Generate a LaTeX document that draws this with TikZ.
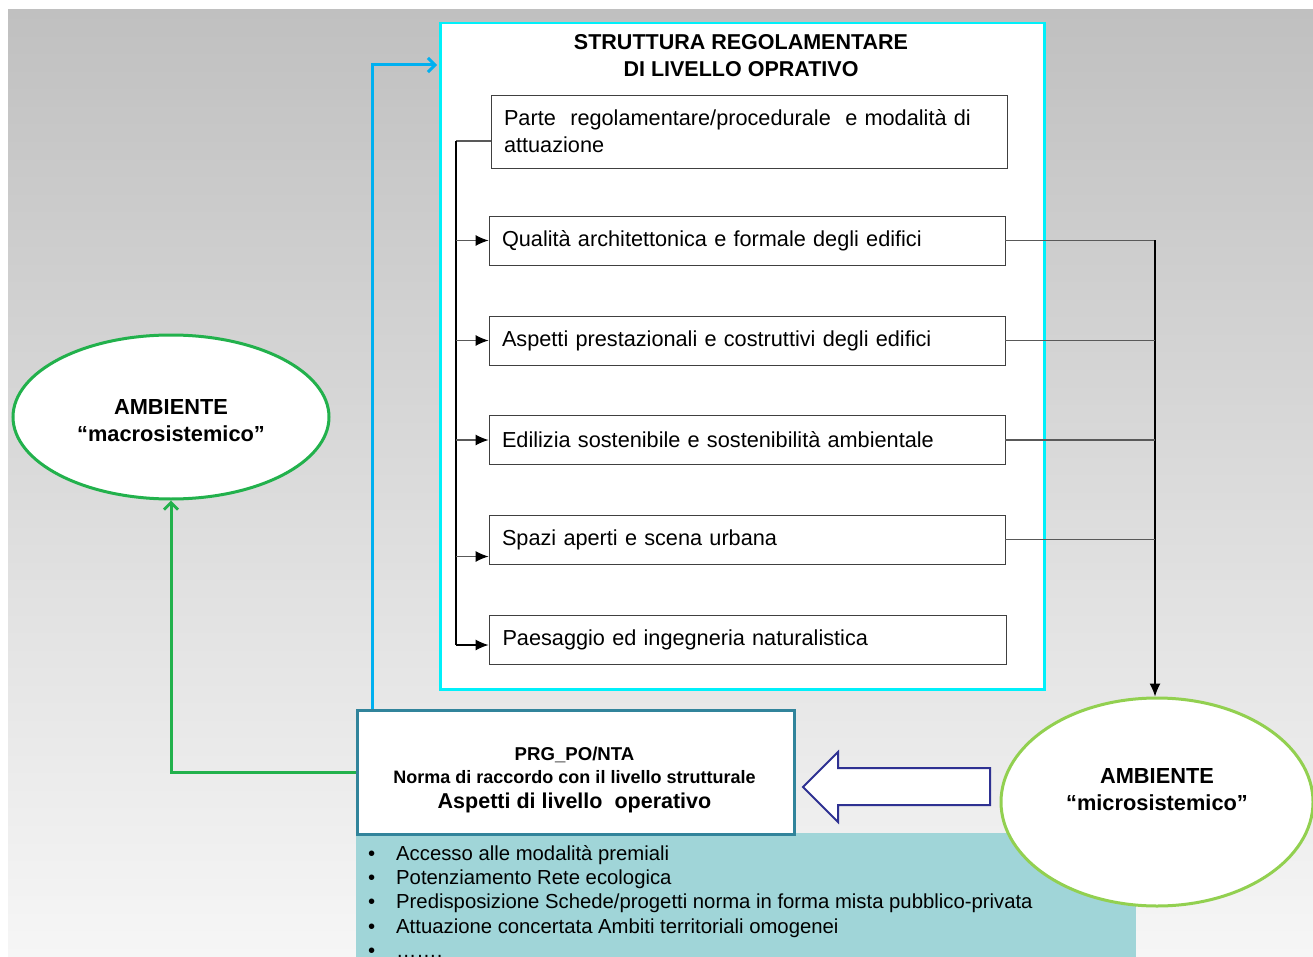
\documentclass[tikz,border=0pt]{standalone}
\usepackage{fontspec}
\setmainfont{Liberation Sans}
\usetikzlibrary{arrows.meta,shapes.geometric,calc}
\definecolor{cyanb}{RGB}{0,240,250}
\definecolor{bluea}{RGB}{0,176,240}
\definecolor{greena}{RGB}{34,177,76}
\definecolor{greenb}{RGB}{146,208,80}
\definecolor{tealb}{RGB}{49,132,155}
\definecolor{tealf}{RGB}{160,213,216}
\definecolor{navyb}{RGB}{46,49,146}
\definecolor{boxline}{RGB}{64,64,64}
\tikzset{
  itembox/.style={draw=boxline,line width=0.9pt,fill=white,minimum height=49,minimum width=516,
    text width=490,align=left,inner sep=0pt,font=\fontsize{21.7}{27}\selectfont},
  conn/.style={draw=black!65,line width=1.2pt},
  tip/.style={-{Latex[length=13pt,width=11pt,color=black]}},
  ell/.style={ellipse,draw,fill=white,line width=3pt},
  elltext/.style={align=center,font=\bfseries\fontsize{21.8}{27}\selectfont}
}
\begin{document}
\begin{tikzpicture}[x=1pt,y=-1pt]
\useasboundingbox (0,0) rectangle (1313,957);
\clip (0,0) rectangle (1313,957);
\shade[top color={rgb,255:red,192;green,192;blue,192},bottom color={rgb,255:red,246;green,246;blue,246}] (8,10) rectangle (1313,957);
% bottom list
\node[fill=tealf,minimum width=780,minimum height=130,anchor=north west,inner sep=0pt] (list) at (356,833) {};
\node[anchor=north west,inner sep=0pt,align=left,font=\fontsize{20.3}{24.4}\selectfont] (items) at (368,845)
 {\makebox[28pt][l]{\textbullet}Accesso alle modalità premiali\\
  \makebox[28pt][l]{\textbullet}Potenziamento Rete ecologica\\
  \makebox[28pt][l]{\textbullet}Predisposizione Schede/progetti norma in forma mista pubblico-privata\\
  \makebox[28pt][l]{\textbullet}Attuazione concertata Ambiti territoriali omogenei\\
  \makebox[28pt][l]{\textbullet}…….};
% big box
\node[draw=cyanb,line width=2.5pt,fill=white,minimum width=604,minimum height=666,anchor=north west,inner sep=0pt] (big) at (439,22) {};
\node[align=center,font=\bfseries\fontsize{21.5}{27}\selectfont] (title) at (741,56) {STRUTTURA REGOLAMENTARE\\DI LIVELLO OPRATIVO};
\node[itembox,minimum height=73,text width=490] (b1) at (749,131.5) {Parte\ \ regolamentare/procedurale\ \ e modalità di\\attuazione};
\node[itembox] (b2) at (747,240.5) {Qualità architettonica e formale degli edifici};
\node[itembox] (b3) at (747,340.5) {Aspetti prestazionali e costruttivi degli edifici};
\node[itembox] (b4) at (747,440) {Edilizia sostenibile e sostenibilità ambientale};
\node[itembox] (b5) at (747,539.5) {Spazi aperti e scena urbana};
\node[itembox,minimum width=517] (b6) at (747.5,640) {Paesaggio ed ingegneria naturalistica};
% left bracket
\coordinate (lt) at (456,141);
\coordinate (lb) at (456,645);
\draw[conn] (lt -| b1.west) -- (lt);
\draw[conn,draw=black] (lt) -- (lb);
\draw[conn,tip] (b2.west -| lt) -- (b2.west);
\draw[conn,tip] (b3.west -| lt) -- (b3.west);
\draw[conn,tip] (b4.west -| lt) -- (b4.west);
\draw[conn,tip] ($(b5.west -| lt)+(0,17)$) -- ($(b5.west)+(0,17)$);
\draw[conn,tip,draw=black] ($(b6.west -| lt)+(0,5)$) -- ($(b6.west)+(0,5)$);
% ellipses
\node[ell,draw=greena,minimum width=316,minimum height=164] (macro) at (171,417) {};
\node[elltext] (macrotxt) at (171,421) {AMBIENTE\\“macrosistemico”};
\node[ell,draw=greenb,minimum width=312,minimum height=208] (micro) at (1157,802) {};
\node[elltext] (microtxt) at (1157,790) {AMBIENTE\\“microsistemico”};
% right connectors
\coordinate (rj) at (1155,240.5);
\draw[conn] (b2.east) -- (rj);
\draw[conn,tip,draw=black] (rj) -- (rj |- micro.north);
\draw[conn] (b3.east) -- (b3.east -| rj);
\draw[conn] (b4.east) -- (b4.east -| rj);
\draw[conn] (b5.east) -- (b5.east -| rj);
% PRG box
\node[draw=tealb,line width=3pt,fill=white,minimum width=437,minimum height=124,anchor=north west,inner sep=0pt] (prg) at (356,709) {};
\node[font=\bfseries\fontsize{18.6}{20}\selectfont] (p1) at (574.5,755) {PRG\_PO/NTA};
\node[font=\bfseries\fontsize{18}{20}\selectfont] (p2) at (574.5,777) {Norma di raccordo con il livello strutturale};
\node[font=\bfseries\fontsize{21.5}{22}\selectfont] (p3) at (574.5,803) {Aspetti di livello\ \ operativo};
% green and blue arrows
\draw[greena,line width=3pt,-{Straight Barb[length=7pt,width=14pt]}] (prg.west) -| (macro.south);
\draw[bluea,line width=3pt,-{Straight Barb[length=7pt,width=14pt]}] ([xshift=16pt]prg.north west) |- ([yshift=-43pt,xshift=-2pt]big.north west);
% hollow arrow
\draw[navyb,line width=2pt,fill=white] (990,768) -- (838,768) -- (838,752) -- (803,787) -- (838,822) -- (838,805) -- (990,805) -- cycle;
\end{tikzpicture}
\end{document}
